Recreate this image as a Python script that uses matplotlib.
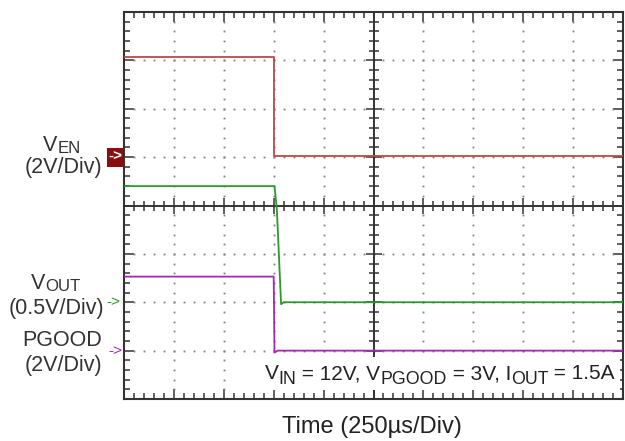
import numpy as np
import matplotlib
matplotlib.use("Agg")
import matplotlib.pyplot as plt
from matplotlib.patches import Rectangle
from matplotlib.ticker import MultipleLocator

plt.rcParams.update({
    "font.family": ["Liberation Sans", "DejaVu Sans"],
})

# ── traces (time in µs, level in divisions) ─────────
ven_t  = [0, 752, 752, 2500]
ven_y  = [7.07, 7.07, 5.02, 5.02]

vout_t = [0, 754, 766, 787, 800, 2500]
vout_y = [4.40, 4.40, 3.91, 1.96, 2.00, 2.00]

pg_t   = [0, 750, 754, 770, 2500]
pg_y   = [2.53, 2.53, 0.96, 1.00, 1.00]

# channel ground markers (divisions)
ven_gnd, vout_gnd, pg_gnd = 5.0, 2.0, 1.0

C_VEN, C_VOUT, C_PG = "#b94a46", "#2a9a2a", "#a02ab0"
FRAME = "#333333"
TXT = "#333333"

W, H = 625, 441
X0, X1, Y0, Y1 = 124, 623, 12, 399          # plot frame in pixels
fig = plt.figure(figsize=(6.25, 4.41), dpi=100)
ax = fig.add_axes([X0 / W, 1 - Y1 / H, (X1 - X0) / W, (Y1 - Y0) / H])

T_DIV, N_X, N_Y = 250, 10, 8
ax.set_xlim(0, T_DIV * N_X)
ax.set_ylim(0, N_Y)

# dotted graticule
for i in range(1, N_X):
    if i == N_X // 2:
        continue
    ys = np.arange(0.2, N_Y, 0.2)
    ax.plot([i * T_DIV] * len(ys), ys, ls="none", marker="s", ms=1.3,
            color="#808080", mec="none")
for j in range(1, N_Y):
    if j == N_Y // 2:
        continue
    xs = np.arange(50, T_DIV * N_X, 50)
    ax.plot(xs, [j] * len(xs), ls="none", marker="s", ms=1.3,
            color="#808080", mec="none")

# centre cross with its own ticks
ax.axvline(T_DIV * N_X / 2, color=FRAME, lw=1.4)
ax.axhline(N_Y / 2, color=FRAME, lw=1.4)
ys = np.arange(0.2, N_Y, 0.2)
minor_y = [y for y in ys if abs(y - round(y)) > 0.05]
major_y = [y for y in range(1, N_Y)]
ax.plot([T_DIV * N_X / 2] * len(minor_y), minor_y, ls="none", marker="_",
        ms=7, mew=1.1, color=FRAME)
ax.plot([T_DIV * N_X / 2] * len(major_y), major_y, ls="none", marker="_",
        ms=11, mew=1.1, color=FRAME)
xs = np.arange(50, T_DIV * N_X, 50)
minor_x = [x for x in xs if x % T_DIV]
major_x = [x for x in xs if x % T_DIV == 0]
ax.plot(minor_x, [N_Y / 2] * len(minor_x), ls="none", marker="|",
        ms=7, mew=1.1, color=FRAME)
ax.plot(major_x, [N_Y / 2] * len(major_x), ls="none", marker="|",
        ms=11, mew=1.1, color=FRAME)

# traces
ax.plot(ven_t, ven_y, color=C_VEN, lw=1.3, zorder=4)
ax.plot(vout_t, vout_y, color=C_VOUT, lw=1.3, zorder=4)
ax.plot(pg_t, pg_y, color=C_PG, lw=1.3, zorder=4)

# frame ticks
ax.xaxis.set_major_locator(MultipleLocator(T_DIV))
ax.xaxis.set_minor_locator(MultipleLocator(50))
ax.yaxis.set_major_locator(MultipleLocator(1))
ax.yaxis.set_minor_locator(MultipleLocator(0.2))
ax.tick_params(which="both", direction="in", top=True, right=True,
               labelbottom=False, labelleft=False, color=FRAME, width=1.1)
ax.tick_params(which="major", length=7)
ax.tick_params(which="minor", length=4)
for s in ax.spines.values():
    s.set_color(FRAME)
    s.set_linewidth(1.5)


def fpx(x, y):
    return x / W, 1 - y / H


renderer = fig.canvas.get_renderer()


def rich(x, y, runs, size, ha="center", sub_scale=0.78, sub_drop=2,
         color=TXT, zorder=6):
    """Text with real subscripts; x, y = pixel position of baseline."""
    items = []
    for s, is_sub in runs:
        fs = size * sub_scale if is_sub else size
        t = fig.text(0, 0, s, fontsize=fs, va="baseline", ha="left",
                     color=color, zorder=zorder)
        items.append((t, t.get_window_extent(renderer).width, is_sub))
    total = sum(w for _, w, _ in items)
    cx = x - total / 2 if ha == "center" else (x - total if ha == "right" else x)
    for t, w, is_sub in items:
        t.set_position(fpx(cx, y + (sub_drop if is_sub else 0)))
        cx += w


# channel labels
LS = 15.5
rich(62, 151, [("V", 0), ("EN", 1)], LS)
rich(63, 173, [("(2V/Div)", 0)], LS)
rich(56, 289, [("V", 0), ("OUT", 1)], LS)
rich(56, 314, [("(0.5V/Div)", 0)], LS)
rich(62, 346, [("PGOOD", 0)], LS)
rich(63, 371, [("(2V/Div)", 0)], LS)

# ground markers
y_to_px = lambda d: Y1 - d * (Y1 - Y0) / N_Y
gy = y_to_px(ven_gnd)
fig.patches.append(Rectangle(fpx(107, gy + 9.5), 16 / W, 19 / H,
                             transform=fig.transFigure, fc="#8b0e0e",
                             ec="none"))
fig.text(*fpx(115, gy), "->", ha="center", va="center", fontsize=11,
         color="white", fontweight="bold")
fig.text(*fpx(113, y_to_px(vout_gnd)), "->", ha="center", va="center",
         fontsize=11, color=C_VOUT)
fig.text(*fpx(115, y_to_px(pg_gnd)), "->", ha="center", va="center",
         fontsize=11, color=C_PG)

# conditions box (white background hides the graticule under it)
fig.patches.append(Rectangle(fpx(254, 390), (X1 - 3 - 254) / W, 33 / H,
                             transform=fig.transFigure, fc="white",
                             ec="none", zorder=5))
rich(615, 379, [("V", 0), ("IN", 1), (" = 12V, V", 0), ("PGOOD", 1),
                (" = 3V, I", 0), ("OUT", 1), (" = 1.5A", 0)],
     15, ha="right", sub_scale=0.85, sub_drop=5, color="#222")

rich(372, 433, [("Time (250µs/Div)", 0)], 17, color="#222")

fig.savefig("out.png", dpi=100)
